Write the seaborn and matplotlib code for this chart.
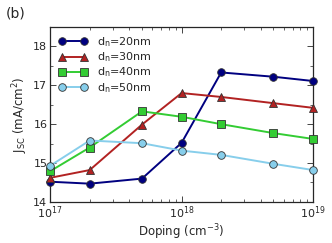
import numpy as np
import pandas as pd
import seaborn as sns
import matplotlib.pyplot as plt
from matplotlib.ticker import LogLocator, MultipleLocator

doping = [1e17, 2e17, 5e17, 1e18, 2e18, 5e18, 1e19]
labels = ['d$_\\mathrm{n}$=20nm', 'd$_\\mathrm{n}$=30nm', 'd$_\\mathrm{n}$=40nm', 'd$_\\mathrm{n}$=50nm']
jsc_20 = [14.52, 14.47, 14.60, 15.52, 17.33, 17.22, 17.11]
jsc_30 = [14.62, 14.82, 15.99, 16.80, 16.70, 16.54, 16.42]
jsc_40 = [14.79, 15.40, 16.33, 16.19, 16.00, 15.77, 15.62]
jsc_50 = [14.93, 15.58, 15.51, 15.32, 15.21, 14.98, 14.82]

colors = ['#000080', '#b22222', '#33cc33', '#87ceeb']
markers = ['o', '^', 's', 'o']

rows = []
for lab, vals in zip(labels, [jsc_20, jsc_30, jsc_40, jsc_50]):
    for d, v in zip(doping, vals):
        rows.append({'doping': d, 'jsc': v, 'series': lab})
df = pd.DataFrame(rows)

sns.set_style('ticks')
plt.rcParams['font.family'] = ['DejaVu Sans']
plt.rcParams['mathtext.default'] = 'regular'

fig = plt.figure(figsize=(3.32, 2.43), dpi=100)
ax = fig.add_axes([0.151, 0.169, 0.792, 0.72])

for lab, c, m in zip(labels, colors, markers):
    sns.lineplot(data=df[df['series'] == lab], x='doping', y='jsc', color=c, marker=m,
                 markersize=5.5, markeredgecolor='#333333', markeredgewidth=0.6,
                 linewidth=1.4, label=lab, ax=ax, clip_on=False, zorder=3)

ax.set_xscale('log')
ax.set_xlim(1e17, 1e19)
ax.set_ylim(14, 18.5)
ax.yaxis.set_major_locator(MultipleLocator(1))
ax.yaxis.set_minor_locator(MultipleLocator(0.5))
ax.xaxis.set_minor_locator(LogLocator(base=10, subs=np.arange(2, 10)))
ax.tick_params(which='both', direction='in', top=True, right=True, labelsize=8)
ax.tick_params(which='major', length=4, width=0.6, pad=2)
ax.tick_params(which='minor', length=2, width=0.5)
for s in ax.spines.values():
    s.set_linewidth(0.9)

ax.set_xlabel('Doping (cm$^{-3}$)', fontsize=8.5, labelpad=1)
ax.set_ylabel('J$_{SC}$ (mA/cm$^2$)', fontsize=8.5, labelpad=2)

leg = ax.legend(loc='upper left', frameon=False, fontsize=8, numpoints=2,
                handlelength=2.6, handletextpad=0.9, labelspacing=0.12,
                borderaxespad=0.35)

fig.text(0.018, 0.946, '(b)', fontsize=10, va='center')

fig.savefig('out.png', dpi=100)
